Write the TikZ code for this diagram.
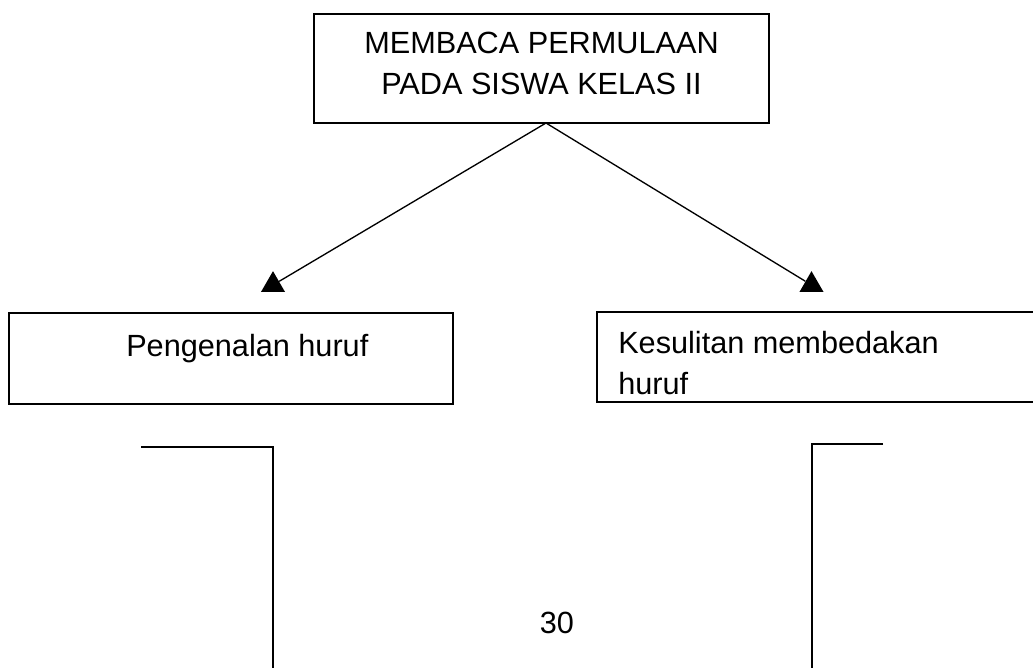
\documentclass[tikz,border=0pt]{standalone}
\usepackage{fontspec}
\setmainfont{Liberation Sans}
\usetikzlibrary{positioning, calc, shapes.geometric}

\begin{document}
\begin{tikzpicture}[x=0.75pt, y=-0.75pt,
		kotak/.style={draw, line width=1.5pt, inner sep=0pt},
		teks/.style={inner sep=0pt, font=\fontsize{23}{30.75}\selectfont},
		garis/.style={line width=1pt},
		tipis/.style={line width=0.8pt},
		ujung/.style={regular polygon, regular polygon sides=3, fill=black, inner sep=0pt, minimum size=20.8pt}]

		\useasboundingbox (0,0) rectangle (1033,668);

		% judul
		\node[kotak, minimum width=341.25pt, minimum height=81.75pt] (judul) at (541.5,68.5) {};
		\node[teks, align=center, below=14.25pt of judul.north] (judulteks)
			{MEMBACA PERMULAAN\\PADA SISWA KELAS II};

		% cabang kiri
		\node[kotak, minimum width=333pt, minimum height=68.25pt] (kiri) at (231,358.5) {};
		\node[teks, below right=16.5pt and 88.5pt of kiri.north west] (kiriteks) {Pengenalan huruf};

		% cabang kanan
		\node[kotak, minimum width=336pt, minimum height=67.5pt] (kanan) at (821,357) {};
		\node[teks, align=left, below right=15pt and 16.5pt of kanan.north west] (kananteks)
			{Kesulitan membedakan\\huruf};

		% panah
		\coordinate (pangkal) at (546,123);
		\node[ujung] (ujungkiri) at (273,285) {};
		\node[ujung] (ujungkanan) at (811.5,285) {};
		\draw[garis] (pangkal) -- (ujungkiri);
		\draw[garis] (pangkal) -- (ujungkanan);

		% bagian bawah
		\coordinate (kiribawah) at (141,447);
		\coordinate (kananbawah) at (883,444);
		\draw[tipis] (kiribawah) -- ++(132,0) -- ++(0,240);
		\draw[tipis] (kananbawah) -- ++(-71,0) -- ++(0,240);

		\node[teks, anchor=base] (halaman) at (557,633) {30};

	\end{tikzpicture}
\end{document}
